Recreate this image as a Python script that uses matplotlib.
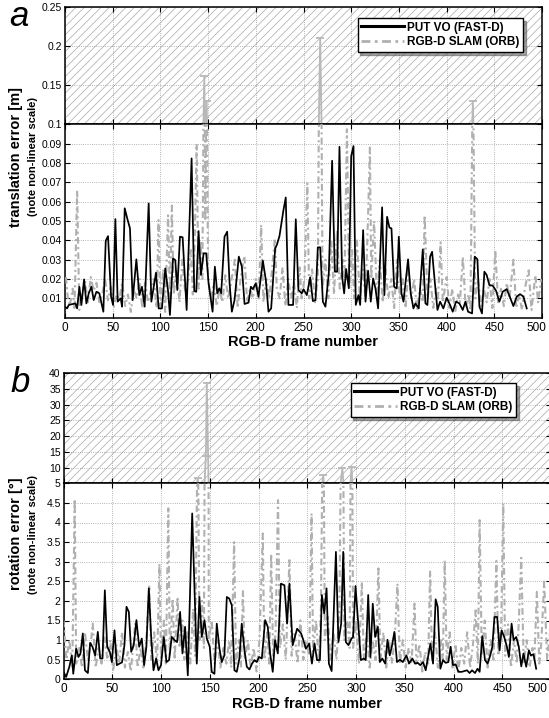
import numpy as np
import matplotlib
matplotlib.use("Agg")
import matplotlib.pyplot as plt
import matplotlib.transforms as mtransforms
from matplotlib.patches import Rectangle
from matplotlib.lines import Line2D

plt.rcParams["font.family"] = ["Liberation Sans", "DejaVu Sans"]
plt.rcParams["hatch.linewidth"] = 0.5

# ── DATA ─────────────────────────────────────────────────────────────────────
# (a) translation error [m], PUT VO (FAST-D)
trans_vo_frames = [
    0, 2.2, 4.0, 10.9, 12.7, 15.1, 17.2, 20.0, 22.4, 24.9, 27.7, 30.1, 32.9,
    36.0, 40.2, 42.7, 45.1, 48.3, 50.4, 52.8, 55.2, 58.4, 59.8, 62.6, 65.7,
    68.1, 70.9, 74.8, 77.9, 80.7, 83.5, 87.7, 90.5, 95.4, 98.2, 101.6, 105.1,
    107.9, 110.0, 113.2, 115.6, 117.7, 120.5, 123.3, 127.5, 132.7, 135.5,
    137.6, 140.0, 142.5, 145.3, 148.0, 150.5, 154.7, 157.1, 159.6, 161.7,
    163.7, 167.2, 170.0, 172.5, 174.9, 177.7, 182.2, 185.4, 188.2, 192.4,
    194.8, 196.9, 200.0, 202.8, 207.4, 210.5, 213.3, 216.1, 220.3, 222.0,
    224.8, 229.0, 231.4, 234.2, 239.1, 241.9, 244.7, 248.2, 250.0, 253.5,
    257.0, 259.8, 262.6, 265.0, 267.5, 270.3, 273.0, 276.5, 280.0, 282.8,
    285.3, 287.7, 290.5, 292.6, 294.7, 297.5, 300.0, 302.4, 304.8, 307.6,
    309.4, 312.5, 315.0, 317.7, 320.5, 323.0, 325.4, 328.2, 332.4, 334.8,
    337.6, 340.1, 342.2, 345.0, 347.8, 349.9, 352.7, 354.8, 359.6, 362.4,
    365.2, 367.3, 370.8, 375.0, 377.8, 379.9, 382.7, 384.8, 387.6, 390.4,
    393.2, 396.6, 400.1, 403.6, 406.4, 409.9, 413.4, 416.9, 419.7, 422.5,
    426.7, 429.5, 432.3, 434.4, 437.1, 439.6, 442.0, 444.8, 448.3, 451.8,
    455.3, 458.8, 463.0, 465.8, 470.0, 473.5, 477.0, 480.5, 484.0,
]
trans_vo = [
    0.0057, 0.0048, 0.0066, 0.0074, 0.0048, 0.0160, 0.0066, 0.0198, 0.0074,
    0.0126, 0.0160, 0.0091, 0.0134, 0.0126, 0.0031, 0.0398, 0.0422, 0.0109,
    0.0066, 0.0510, 0.0083, 0.0100, 0.0057, 0.0566, 0.0505, 0.0462, 0.0091,
    0.0302, 0.0117, 0.0160, 0.0057, 0.0591, 0.0083, 0.0233, 0.0048, 0.0048,
    0.0255, 0.0143, 0.0014, 0.0307, 0.0298, 0.0143, 0.0419, 0.0416, 0.0040,
    0.0824, 0.0138, 0.0134, 0.0448, 0.0221, 0.0333, 0.0333, 0.0178, 0.0031,
    0.0264, 0.0126, 0.0152, 0.0126, 0.0419, 0.0445, 0.0178, 0.0031, 0.0091,
    0.0316, 0.0264, 0.0071, 0.0078, 0.0160, 0.0148, 0.0178, 0.0109, 0.0295,
    0.0195, 0.0031, 0.0048, 0.0359, 0.0376, 0.0422, 0.0557, 0.0622, 0.0066,
    0.0066, 0.0509, 0.0143, 0.0126, 0.0147, 0.0117, 0.0209, 0.0086, 0.0091,
    0.0364, 0.0364, 0.0083, 0.0057, 0.0229, 0.0812, 0.0238, 0.0238, 0.0884,
    0.0212, 0.0126, 0.0252, 0.0152, 0.0836, 0.0888, 0.0066, 0.0117, 0.0066,
    0.0453, 0.0083, 0.0243, 0.0083, 0.0203, 0.0152, 0.0048, 0.0571, 0.0117,
    0.0522, 0.0466, 0.0462, 0.0160, 0.0152, 0.0419, 0.0126, 0.0083, 0.0302,
    0.0126, 0.0048, 0.0074, 0.0048, 0.0353, 0.0074, 0.0066, 0.0316, 0.0341,
    0.0186, 0.0040, 0.0083, 0.0048, 0.0103, 0.0066, 0.0031, 0.0083, 0.0074,
    0.0040, 0.0083, 0.0031, 0.0022, 0.0316, 0.0302, 0.0057, 0.0022, 0.0238,
    0.0221, 0.0169, 0.0166, 0.0140, 0.0083, 0.0134, 0.0148, 0.0114, 0.0060,
    0.0109, 0.0122, 0.0109, 0.0048,
]

# (a) translation error [m], RGB-D SLAM (ORB)
trans_slam_frames = [
    1, 3, 5, 8, 10, 12.7, 15, 18, 21, 24, 27, 30, 33, 36, 39, 42, 45, 48, 51,
    54, 57, 60, 63, 66, 69, 72, 75, 78, 81, 84, 87, 90, 93, 96, 98, 100, 103,
    105, 108, 110, 112, 114, 117, 120, 123, 126, 129, 132, 134, 136, 138, 140,
    142, 144, 146, 147, 148.5, 150, 153, 156, 159, 162, 165, 168, 171, 174,
    178, 181, 184, 188, 191, 194, 197, 200, 203, 205.6, 208, 211, 214, 217,
    220, 222, 225, 228, 231, 234, 237, 240, 243, 246, 248, 251, 254, 256, 259,
    262, 265, 267.5, 270, 273, 276, 279, 282, 285, 288, 291, 293, 295.5, 298,
    301, 303, 306, 309, 312, 315, 318, 319.6, 321, 324, 327, 330, 333, 336,
    339, 342, 345, 348, 351, 354, 357, 360, 363, 366, 369, 372, 375, 377, 380,
    383, 386, 389, 391, 393.7, 396, 400, 403, 406, 409, 412, 414, 417, 420,
    423, 425, 427.5, 430, 433, 436, 439, 442, 445, 448, 451, 454, 457, 460,
    463, 466, 470, 473, 476, 479, 482, 486, 489, 493, 496, 499,
]
trans_slam = [
    0.021, 0.010, 0.006, 0.015, 0.005, 0.066, 0.004, 0.012, 0.019, 0.008,
    0.021, 0.014, 0.018, 0.008, 0.012, 0.020, 0.009, 0.016, 0.005, 0.012,
    0.010, 0.018, 0.006, 0.012, 0.003, 0.015, 0.010, 0.020, 0.005, 0.018,
    0.008, 0.014, 0.020, 0.005, 0.0505, 0.006, 0.025, 0.003, 0.053, 0.010,
    0.058, 0.012, 0.025, 0.008, 0.030, 0.013, 0.020, 0.035, 0.012, 0.040,
    0.090, 0.015, 0.040, 0.020, 0.162, 0.050, 0.130, 0.020, 0.010, 0.018,
    0.006, 0.015, 0.008, 0.022, 0.010, 0.018, 0.030, 0.005, 0.020, 0.032,
    0.008, 0.015, 0.010, 0.020, 0.010, 0.048, 0.008, 0.020, 0.010, 0.025,
    0.041, 0.015, 0.010, 0.026, 0.006, 0.020, 0.010, 0.018, 0.005, 0.026,
    0.010, 0.020, 0.0695, 0.010, 0.025, 0.008, 0.020, 0.210, 0.015, 0.030,
    0.010, 0.040, 0.012, 0.045, 0.015, 0.030, 0.020, 0.0975, 0.015, 0.035,
    0.010, 0.040, 0.010, 0.025, 0.010, 0.058, 0.088, 0.020, 0.050, 0.010,
    0.030, 0.008, 0.025, 0.010, 0.020, 0.005, 0.030, 0.010, 0.020, 0.005,
    0.025, 0.010, 0.020, 0.004, 0.015, 0.008, 0.053, 0.010, 0.020, 0.005,
    0.015, 0.010, 0.039, 0.008, 0.021, 0.005, 0.015, 0.003, 0.012, 0.008,
    0.0315, 0.005, 0.012, 0.004, 0.130, 0.010, 0.020, 0.006, 0.015, 0.008,
    0.020, 0.005, 0.035, 0.008, 0.015, 0.006, 0.018, 0.010, 0.030, 0.005,
    0.012, 0.004, 0.015, 0.0245, 0.004, 0.022, 0.008, 0.020,
]

# (b) rotation error [deg], PUT VO (FAST-D)
rot_vo_frames = [
    0, 2.7, 6.0, 8.5, 10.0, 13.0, 15.4, 17.4, 19.8, 22.0, 25.0, 27.3, 29.7,
    32.5, 35.2, 37.6, 40.0, 42.4, 44.8, 47.5, 49.6, 52.3, 54.7, 57.4, 60.0,
    62.5, 64.6, 67.0, 69.4, 72.0, 74.8, 77.6, 80.3, 82.7, 85.0, 87.5, 90.0,
    92.3, 95.0, 97.4, 100.0, 102.9, 105.6, 108.3, 111.0, 113.8, 116.5, 119.6,
    122.0, 124.7, 127.5, 132.0, 136.7, 139.4, 141.8, 144.6, 147.0, 150.0,
    152.0, 154.8, 157.2, 160.0, 162.3, 165.0, 167.5, 170.0, 172.6, 175.3,
    177.7, 180.4, 182.8, 185.6, 188.0, 190.7, 193.4, 195.8, 198.2, 200.6,
    203.4, 206.8, 209.5, 211.9, 214.6, 217.0, 219.8, 223.0, 226.6, 229.3,
    231.7, 235.0, 239.6, 243.7, 246.0, 248.6, 252.0, 254.8, 257.5, 260.0,
    263.0, 265.0, 267.4, 269.8, 272.2, 275.0, 279.4, 282.0, 284.8, 286.9,
    289.6, 292.3, 295.4, 297.0, 299.5, 302.0, 305.0, 308.0, 310.0, 312.5,
    314.8, 317.2, 319.6, 322.4, 324.4, 327.0, 330.0, 332.3, 334.6, 336.7,
    339.4, 342.0, 345.0, 348.0, 351.7, 354.4, 357.8, 360.6, 363.3, 366.0,
    368.8, 371.5, 374.2, 376.3, 379.0, 381.7, 383.8, 386.5, 389.2, 392.0,
    394.7, 397.0, 399.5, 402.2, 405.0, 408.4, 411.0, 413.8, 416.5, 419.0,
    422.0, 424.7, 426.8, 429.5, 432.3, 435.0, 437.7, 439.8, 442.0, 444.8,
    447.3, 449.3, 452.0, 454.8, 456.8, 459.6, 461.6, 464.3, 467.0, 469.5,
    471.8, 474.6, 477.3, 479.3, 482.0, 484.8,
]
rot_vo = [
    0.19, 0.06, 0.32, 0.61, 0.14, 0.78, 0.57, 0.66, 1.17, 0.23, 0.16, 0.93,
    0.83, 0.61, 1.21, 0.53, 0.53, 2.27, 0.83, 0.70, 0.44, 1.25, 0.36, 0.40,
    0.43, 0.87, 1.85, 1.72, 0.70, 0.87, 1.51, 0.83, 1.04, 0.36, 0.83, 2.32,
    1.04, 0.23, 0.53, 0.23, 0.36, 1.08, 0.44, 0.49, 1.08, 1.00, 0.95, 1.72,
    0.66, 1.34, 0.10, 4.23, 0.40, 2.10, 1.08, 1.51, 1.04, 0.83, 0.19, 0.14,
    1.42, 0.78, 0.44, 0.61, 2.10, 2.06, 1.89, 0.23, 0.19, 0.53, 1.42, 0.74,
    0.32, 0.25, 0.40, 0.49, 0.44, 0.57, 0.53, 1.51, 1.34, 0.66, 0.19, 1.00,
    0.66, 2.44, 2.40, 1.42, 2.44, 0.87, 1.29, 1.17, 1.00, 0.78, 0.91, 0.40,
    0.91, 0.49, 0.49, 2.15, 1.68, 2.32, 0.40, 0.21, 3.25, 0.95, 1.42, 3.25,
    0.95, 0.87, 1.04, 1.08, 2.38, 1.51, 0.49, 0.53, 0.49, 2.15, 0.57, 1.93,
    1.08, 1.34, 0.44, 0.53, 0.40, 1.01, 0.61, 0.83, 1.21, 0.44, 0.50, 0.44,
    0.61, 0.40, 0.53, 0.40, 0.42, 0.36, 0.44, 0.23, 0.61, 0.91, 0.40, 2.04,
    1.85, 0.27, 0.49, 0.42, 0.44, 0.83, 0.36, 0.38, 0.19, 0.19, 0.21, 0.23,
    0.16, 0.23, 0.16, 0.27, 0.19, 1.10, 0.49, 0.40, 0.61, 0.83, 1.59, 1.59,
    0.74, 1.25, 1.08, 0.83, 0.57, 1.42, 1.00, 1.08, 0.83, 0.33, 0.66, 0.32,
    0.74, 0.61, 0.64, 0.27,
]

# (b) rotation error [deg], RGB-D SLAM (ORB)
rot_slam_frames = [
    0, 3, 6, 9, 11.5, 13, 16, 19, 22, 25, 28, 30, 33, 36, 39, 42, 45, 48, 51,
    54, 57, 60, 63, 66, 69, 72, 73.5, 76, 79, 82, 85, 88, 90, 93, 96, 98.4,
    100, 103, 105, 107.5, 109, 112, 114, 117, 119, 122, 124, 127, 130, 133,
    135, 137.7, 139.5, 142, 144, 146, 147, 149, 152, 155, 158, 161, 164, 167,
    170, 172, 175, 177, 180, 182, 184, 186, 189, 192, 195, 198, 201, 204.4,
    206, 209, 211, 213, 215, 217.5, 220, 222, 225, 228, 231.7, 234, 237, 240,
    243, 246, 249, 252, 254.4, 256, 259, 262, 264, 266.4, 268, 271, 274, 277,
    280, 283, 286, 288, 291, 293.5, 295.4, 297, 300, 303, 306, 308, 311, 314,
    317, 320, 323, 325, 328, 331, 334, 337, 340, 342.5, 345, 348, 351, 354,
    357, 360, 362, 365, 368, 371, 374, 376, 378, 381, 384, 387, 389, 391, 393,
    396, 399, 402, 405, 408, 411, 414, 417, 420, 422.7, 425, 426.8, 429, 432,
    435, 438, 441, 444, 446, 449, 451, 453, 456, 459, 462, 465, 467, 469.5,
    472, 475, 478, 481, 483, 485.5, 488, 490, 493, 496, 499,
]
rot_slam = [
    1.5, 0.5, 1.0, 0.3, 4.6, 0.4, 0.8, 0.3, 1.2, 0.5, 0.9, 1.42, 0.3, 0.8,
    0.4, 1.1, 0.5, 1.0, 0.2, 0.9, 0.4, 1.2, 0.3, 0.7, 0.2, 1.0, 1.42, 0.3,
    0.8, 0.3, 1.0, 2.4, 0.5, 1.2, 0.4, 2.95, 0.5, 1.5, 0.4, 4.36, 0.6, 2.06,
    0.5, 2.1, 0.8, 1.5, 0.5, 1.2, 0.4, 1.8, 0.6, 6.6, 1.0, 2.0, 0.8, 13.7,
    36.7, 1.0, 1.5, 0.4, 1.0, 0.3, 0.8, 0.4, 1.0, 0.3, 3.5, 0.4, 1.0, 0.3,
    2.27, 0.5, 1.0, 0.3, 0.8, 0.2, 1.0, 3.72, 0.5, 1.2, 0.4, 3.2, 0.6, 1.2,
    4.57, 0.8, 1.4, 0.5, 3.04, 0.6, 1.2, 0.4, 1.5, 0.5, 1.0, 0.6, 4.23, 0.7,
    1.5, 0.4, 1.8, 7.6, 1.0, 1.6, 0.5, 1.2, 0.5, 1.8, 9.8, 1.0, 1.5, 0.8,
    10.3, 0.8, 1.5, 0.4, 2.49, 0.5, 1.2, 0.3, 1.0, 0.5, 2.83, 0.5, 1.2, 0.3,
    1.0, 0.4, 1.2, 2.44, 0.4, 1.0, 0.3, 0.8, 0.4, 1.93, 0.4, 0.9, 0.2, 0.7,
    0.4, 2.77, 0.5, 1.2, 0.3, 1.0, 0.5, 3.04, 0.5, 1.2, 0.3, 0.9, 0.2, 0.8,
    0.4, 1.2, 0.3, 0.9, 1.76, 0.4, 4.06, 0.6, 1.5, 0.3, 1.0, 0.5, 3.02, 0.6,
    1.5, 4.49, 0.6, 1.4, 0.3, 1.0, 0.4, 1.5, 3.1, 0.4, 1.0, 0.3, 0.8, 0.5,
    2.23, 0.4, 0.9, 2.49, 0.5, 1.2,
]

LABEL_VO = "PUT VO (FAST-D)"
LABEL_SLAM = "RGB-D SLAM (ORB)"

# ── STYLE ────────────────────────────────────────────────────────────────────
W, H = 549, 718
GRAY = "#b0b0b0"
SLAM_DASHES = (3.2, 1.6, 1.0, 1.6)
BLACK_KW = dict(color="black", lw=1.25, zorder=4)
GRAY_DASH = dict(color=GRAY, lw=1.5, dashes=SLAM_DASHES, zorder=3)
GRAY_SOLID = dict(color="#b8b8b8", lw=1.3, zorder=3)
GRID_KW = dict(linestyle=":", color="#9c9c9c", linewidth=0.6)


def fig_rect(x0, y0, x1, y1):
    """pixel box (top-left origin) -> figure fraction rect"""
    return [x0 / W, 1 - y1 / H, (x1 - x0) / W, (y1 - y0) / H]


def style_axes(ax):
    ax.tick_params(direction="in", top=True, right=True, length=3.5,
                   width=0.8, pad=2, labelsize=7.5)
    ax.tick_params(axis="x", labelsize=8.5, pad=3)
    for sp in ax.spines.values():
        sp.set_linewidth(1.1)
    ax.grid(True, **GRID_KW)
    ax.set_axisbelow(True)
    ax.set_xlim(0, 500)
    ax.set_xticks(np.arange(0, 501, 50))


def draw_panel(box, split, ylo, yhi, lo_ticks, hi_ticks, xs_vo, ys_vo,
               xs_sl, ys_sl, legend_anchor, last_shift):
    x0, y0, y_split, y1, x1 = box
    ax_hi = fig.add_axes(fig_rect(x0, y0, x1, y_split))
    ax_lo = fig.add_axes(fig_rect(x0, y_split, x1, y1))

    over = np.asarray(ys_sl) > split

    # lower (linear) part
    ax_lo.plot(xs_vo, ys_vo, **BLACK_KW)
    ax_lo.plot(xs_sl, ys_sl, **GRAY_DASH)
    ax_lo.set_ylim(ylo, split)
    ax_lo.set_yticks(lo_ticks)
    ax_lo.set_yticklabels([f"{t:g}" for t in lo_ticks])
    style_axes(ax_lo)

    # upper (compressed, hatched) part
    ax_hi.add_patch(Rectangle((0, 0), 1, 1, transform=ax_hi.transAxes,
                              fill=False, hatch="////", edgecolor="#a8a8a8",
                              lw=0, zorder=0.2))
    ax_hi.plot(xs_vo, ys_vo, **BLACK_KW)
    ax_hi.plot(xs_sl, ys_sl, marker="_", ms=6, mew=1.3,
               markevery=list(np.nonzero(over)[0]), **GRAY_SOLID)
    ax_hi.set_ylim(split, yhi)
    ax_hi.set_yticks([split] + hi_ticks)
    ax_hi.set_yticklabels([""] + [f"{t:g}" for t in hi_ticks])
    style_axes(ax_hi)
    ax_hi.tick_params(axis="x", labelbottom=False)

    ax_lo.set_xlabel("RGB-D frame number", fontsize=10.5,
                     fontweight="bold", labelpad=1)

    # keep the last x label ("500") inside the figure
    fig.canvas.draw()
    last = ax_lo.get_xticklabels()[-1]
    last.set_transform(last.get_transform() + mtransforms.ScaledTranslation(
        -last_shift / 100, 0, fig.dpi_scale_trans))

    handles = [Line2D([], [], color="black", lw=2.2),
               Line2D([], [], color=GRAY, lw=2.0, dashes=SLAM_DASHES)]
    leg = fig.legend(handles, [LABEL_VO, LABEL_SLAM], loc="upper right",
                     bbox_to_anchor=legend_anchor, frameon=True,
                     fancybox=False, shadow=True, framealpha=1,
                     edgecolor="black", handlelength=3.6, handletextpad=0.3,
                     borderpad=0.3, labelspacing=0.25, borderaxespad=0,
                     prop=dict(size=8.5, weight="bold"))
    leg.get_frame().set_linewidth(1.0)
    return ax_hi, ax_lo


fig = plt.figure(figsize=(W / 100, H / 100), dpi=100)

# panel a
draw_panel((65, 7, 124.4, 317.7, 542), 0.1, 0, 0.25,
           [round(0.01 * i, 2) for i in range(1, 11)], [0.15, 0.2, 0.25],
           trans_vo_frames, trans_vo, trans_slam_frames, trans_slam,
           (523 / W, 1 - 18 / H), 6)
# panel b
draw_panel((63.5, 373, 483.3, 679.3, 551), 5, 0, 40,
           [0.5 * i for i in range(0, 11)], [10, 15, 20, 25, 30, 35, 40],
           rot_vo_frames, rot_vo, rot_slam_frames, rot_slam,
           (516 / W, 1 - 383 / H), 14)

# y labels (two lines, different sizes) and panel letters
fig.text(16 / W, 1 - 157 / H, "translation error [m]", rotation=90,
         ha="center", va="center", fontsize=10.5, fontweight="bold")
fig.text(32.5 / W, 1 - 157 / H, "(note non-linear scale)", rotation=90,
         ha="center", va="center", fontsize=8, fontweight="bold")
fig.text(16 / W, 1 - 534 / H, "rotation error [°]", rotation=90,
         ha="center", va="center", fontsize=10.5, fontweight="bold")
fig.text(32.5 / W, 1 - 534 / H, "(note non-linear scale)", rotation=90,
         ha="center", va="center", fontsize=8, fontweight="bold")

fig.text(19 / W, 1 - 17 / H, "a", ha="center", va="center", fontsize=25,
         style="italic")
fig.text(20 / W, 1 - 382 / H, "b", ha="center", va="center", fontsize=25,
         style="italic")

fig.savefig("out.png", dpi=100)
